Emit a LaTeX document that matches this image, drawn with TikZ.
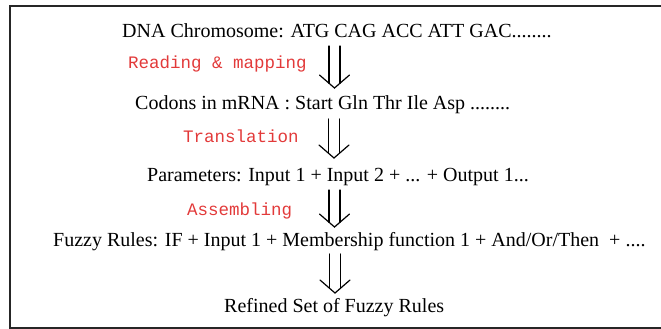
\documentclass[tikz,border=0pt]{standalone}
\usepackage{fontspec}
\setmainfont{Liberation Serif}
\setmonofont{Liberation Mono}
\usetikzlibrary{calc}
\definecolor{steplabel}{RGB}{226,58,58}
\tikzset{
  stage/.style={anchor=base west, inner sep=0pt, font=\fontsize{20}{24}\selectfont},
  action/.style={anchor=base west, inner sep=0pt, text=steplabel, font=\ttfamily\fontsize{17.5}{21}\selectfont},
  arrowline/.style={line width=1.2pt, line cap=round, line join=miter},
  frame/.style={line width=1.6pt, draw=black!85}
}
% double-shafted downward arrow from #1 (top) to #2 (tip)
\newcommand\twinarrow[2]{%
  \draw[arrowline] ($(#1)+(-5.5,0)$) -- ($(#2)+(-5.5,-4.8)$);
  \draw[arrowline] ($(#1)+(5.5,0)$) -- ($(#2)+(5.5,-4.8)$);
  \draw[arrowline] ($(#2)+(-15,-13)$) -- (#2) -- ($(#2)+(15,-13)$);
}
\begin{document}
\begin{tikzpicture}[x=1pt,y=-1pt]
\useasboundingbox (0,0) rectangle (661,329);
% open frame: top, left and bottom edges
\draw[frame] (661,6) -- (10,6) -- (10,328) -- (661,328);

% stages
\node[stage] (dna)   at (122,38)  {DNA Chromosome: ATG CAG ACC ATT GAC........};
\node[stage] (codon) at (135,109) {Codons in mRNA : Start Gln Thr Ile Asp ........};
\node[stage] (param) at (147,181) {Parameters: Input 1 + Input 2 + ... + Output 1...};
\node[stage] (fuzzy) at (53,246)  {Fuzzy Rules: IF + Input 1 + Membership function 1 + And/Or/Then\ \ + ....};
\node[stage] (refin) at (224,312) {Refined Set of Fuzzy Rules};

% operations
\node[action] (read)  at (128,68)  {Reading \& mapping};
\node[action] (trans) at (183,142) {Translation};
\node[action] (assem) at (187,215) {Assembling};

% arrow ends
\coordinate (t1) at (334.5,46);  \coordinate (h1) at (334.5,88);
\coordinate (t2) at (334,119);   \coordinate (h2) at (334,158);
\coordinate (t3) at (334.5,190); \coordinate (h3) at (334.5,227);
\coordinate (t4) at (335,254);   \coordinate (h4) at (335,293);

\twinarrow{t1}{h1}
\twinarrow{t2}{h2}
\twinarrow{t3}{h3}
\twinarrow{t4}{h4}
\end{tikzpicture}
\end{document}
